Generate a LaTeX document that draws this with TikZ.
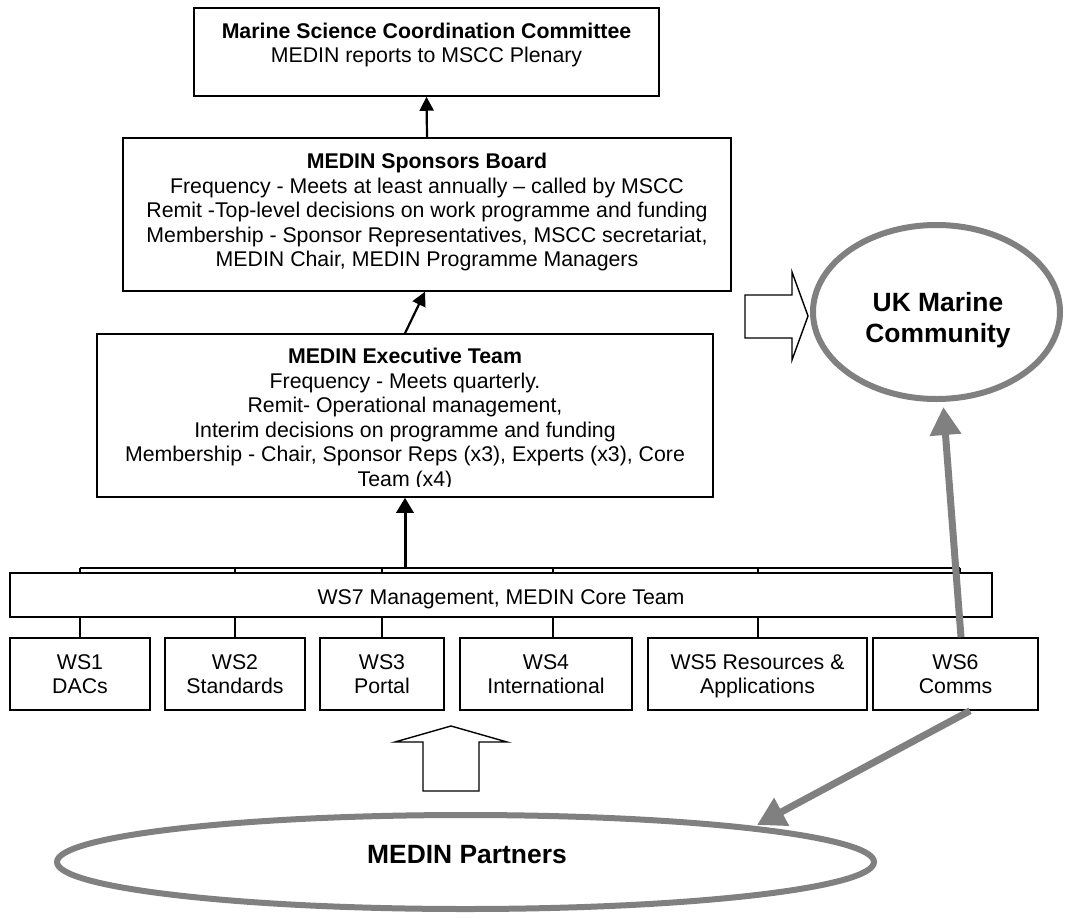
\documentclass[tikz,border=0pt]{standalone}
\usepackage{fontspec}
\setmainfont{Liberation Sans}
\usetikzlibrary{arrows.meta,shapes.geometric}

\begin{document}
\begin{tikzpicture}[x=1pt,y=-1pt,
    box/.style={draw,line width=1.5pt,inner sep=0pt,fill=white},
    txt/.style={inner sep=0pt,align=center,font=\fontsize{21.3pt}{24.5pt}\selectfont},
    bigtxt/.style={inner sep=0pt,align=center,font=\fontsize{26.4pt}{30.4pt}\selectfont\bfseries},
    link/.style={line width=2.2pt,-{Triangle[width=14pt,length=14pt]}},
    tick/.style={line width=1.8pt},
    grayarrow/.style={draw=gray,line width=7pt,-{Triangle[width=30pt,length=28pt]}},
    ring/.style={ellipse,draw=gray,line width=6pt,inner sep=0pt,fill=white},
    blockarrow/.style={draw,line width=1.4pt,fill=white,line join=miter}]
  \useasboundingbox (0,0) rectangle (1065,918);

  \node[box,minimum width=465pt,minimum height=88pt] (mscc) at (426.5,52) {};
  \node[box,minimum width=608pt,minimum height=153pt] (board) at (427,214.5) {};
  \node[box,minimum width=616pt,minimum height=163pt] (exec) at (405,415.5) {};
  \node[box,minimum width=982pt,minimum height=44pt] (core) at (501,595) {};
  \foreach \n/\x/\w in {ws1/80/140,ws2/235/140,ws3/382/124,ws4/546/172,ws5/757.5/219,ws6/955.5/165}
    \node[box,minimum width=\w pt,minimum height=72pt] (\n) at (\x,674) {};

  \node[txt,anchor=north] (mscc-t) at ([yshift=-15.2pt]mscc.north)
    {\textbf{Marine Science Coordination Committee}\\MEDIN reports to MSCC Plenary};
  \node[txt,anchor=north] (board-t) at ([yshift=-16pt]board.north)
    {\textbf{MEDIN Sponsors Board}\\Frequency - Meets at least annually – called by MSCC\\
     Remit -Top-level decisions on work programme and funding\\
     Membership - Sponsor Representatives, MSCC secretariat,\\MEDIN Chair, MEDIN Programme Managers};
  \begin{scope}
    \clip (exec.north west) rectangle ([yshift=11pt]exec.south east);
    \node[txt,anchor=north] (exec-t) at ([yshift=-15pt]exec.north)
      {\textbf{MEDIN Executive Team}\\Frequency - Meets quarterly.\\Remit- Operational management,\\
       Interim decisions on programme and funding\\
       Membership - Chair, Sponsor Reps (x3), Experts (x3), Core\\Team (x4)};
  \end{scope}
  \node[txt,anchor=base] (core-t) at ([yshift=-9.6pt]core.center) {WS7 Management, MEDIN Core Team};
  \node[txt,anchor=north] (ws1-t) at ([yshift=-17pt]ws1.north) {WS1\\DACs};
  \node[txt,anchor=north] (ws2-t) at ([yshift=-17pt]ws2.north) {WS2\\Standards};
  \node[txt,anchor=north] (ws3-t) at ([yshift=-17pt]ws3.north) {WS3\\Portal};
  \node[txt,anchor=north] (ws4-t) at ([yshift=-17pt]ws4.north) {WS4\\International};
  \node[txt,anchor=north] (ws5-t) at ([yshift=-17pt]ws5.north) {WS5 Resources \&\\Applications};
  \node[txt,anchor=north] (ws6-t) at ([yshift=-17pt]ws6.north) {WS6\\Comms};

  \draw[link] (board.north) -- (mscc.south);
  \draw[link] (exec.north) -- ([xshift=-2pt]board.south);

  \coordinate (bus) at (0,568);
  \foreach \n/\d in {ws1/0,ws2/0,ws3/0,ws4/7,ws5/0.5,ws6/4.5} {
    \coordinate (\n-c) at ([xshift=\d pt]\n.north);
    \draw[tick] (\n-c |- bus) -- (\n-c |- core.north);
    \draw[tick] (\n-c |- core.south) -- (\n-c);
  }
  \draw[tick] (ws1-c |- bus) -- (ws6-c |- bus);
  \draw[link,line width=3pt,-{Triangle[width=17pt,length=15pt]}] (exec.south |- bus) -- (exec.south);

  \draw[blockarrow] (745,295) -- (792,295) -- (792,272) -- (808,316) -- (792,360) -- (792,338) -- (745,338) -- cycle;
  \draw[blockarrow] (423,791) -- (423,742) -- (395,742) -- (451,726) -- (507,742) -- (479,742) -- (479,791) -- cycle;

  \node[ring,minimum width=247pt,minimum height=174pt] (community) at (936.5,312) {};
  \node[bigtxt,anchor=north] (community-t) at ([xshift=1.5pt,yshift=19.4pt]community.center) {UK Marine\\Community};
  \node[ring,minimum width=817pt,minimum height=94pt] (partners) at (465.5,862) {};
  \node[bigtxt,anchor=base] (partners-t) at ([xshift=1.5pt,yshift=-1pt]partners.center) {MEDIN Partners};

  \coordinate (drop) at (757,825);
  \draw[grayarrow,shorten >=5pt] ([xshift=5.5pt]ws6.north) -- ([xshift=6.5pt]community.south);
  \draw[grayarrow] ([xshift=14.5pt]ws6.south) -- (drop);
\end{tikzpicture}
\end{document}
